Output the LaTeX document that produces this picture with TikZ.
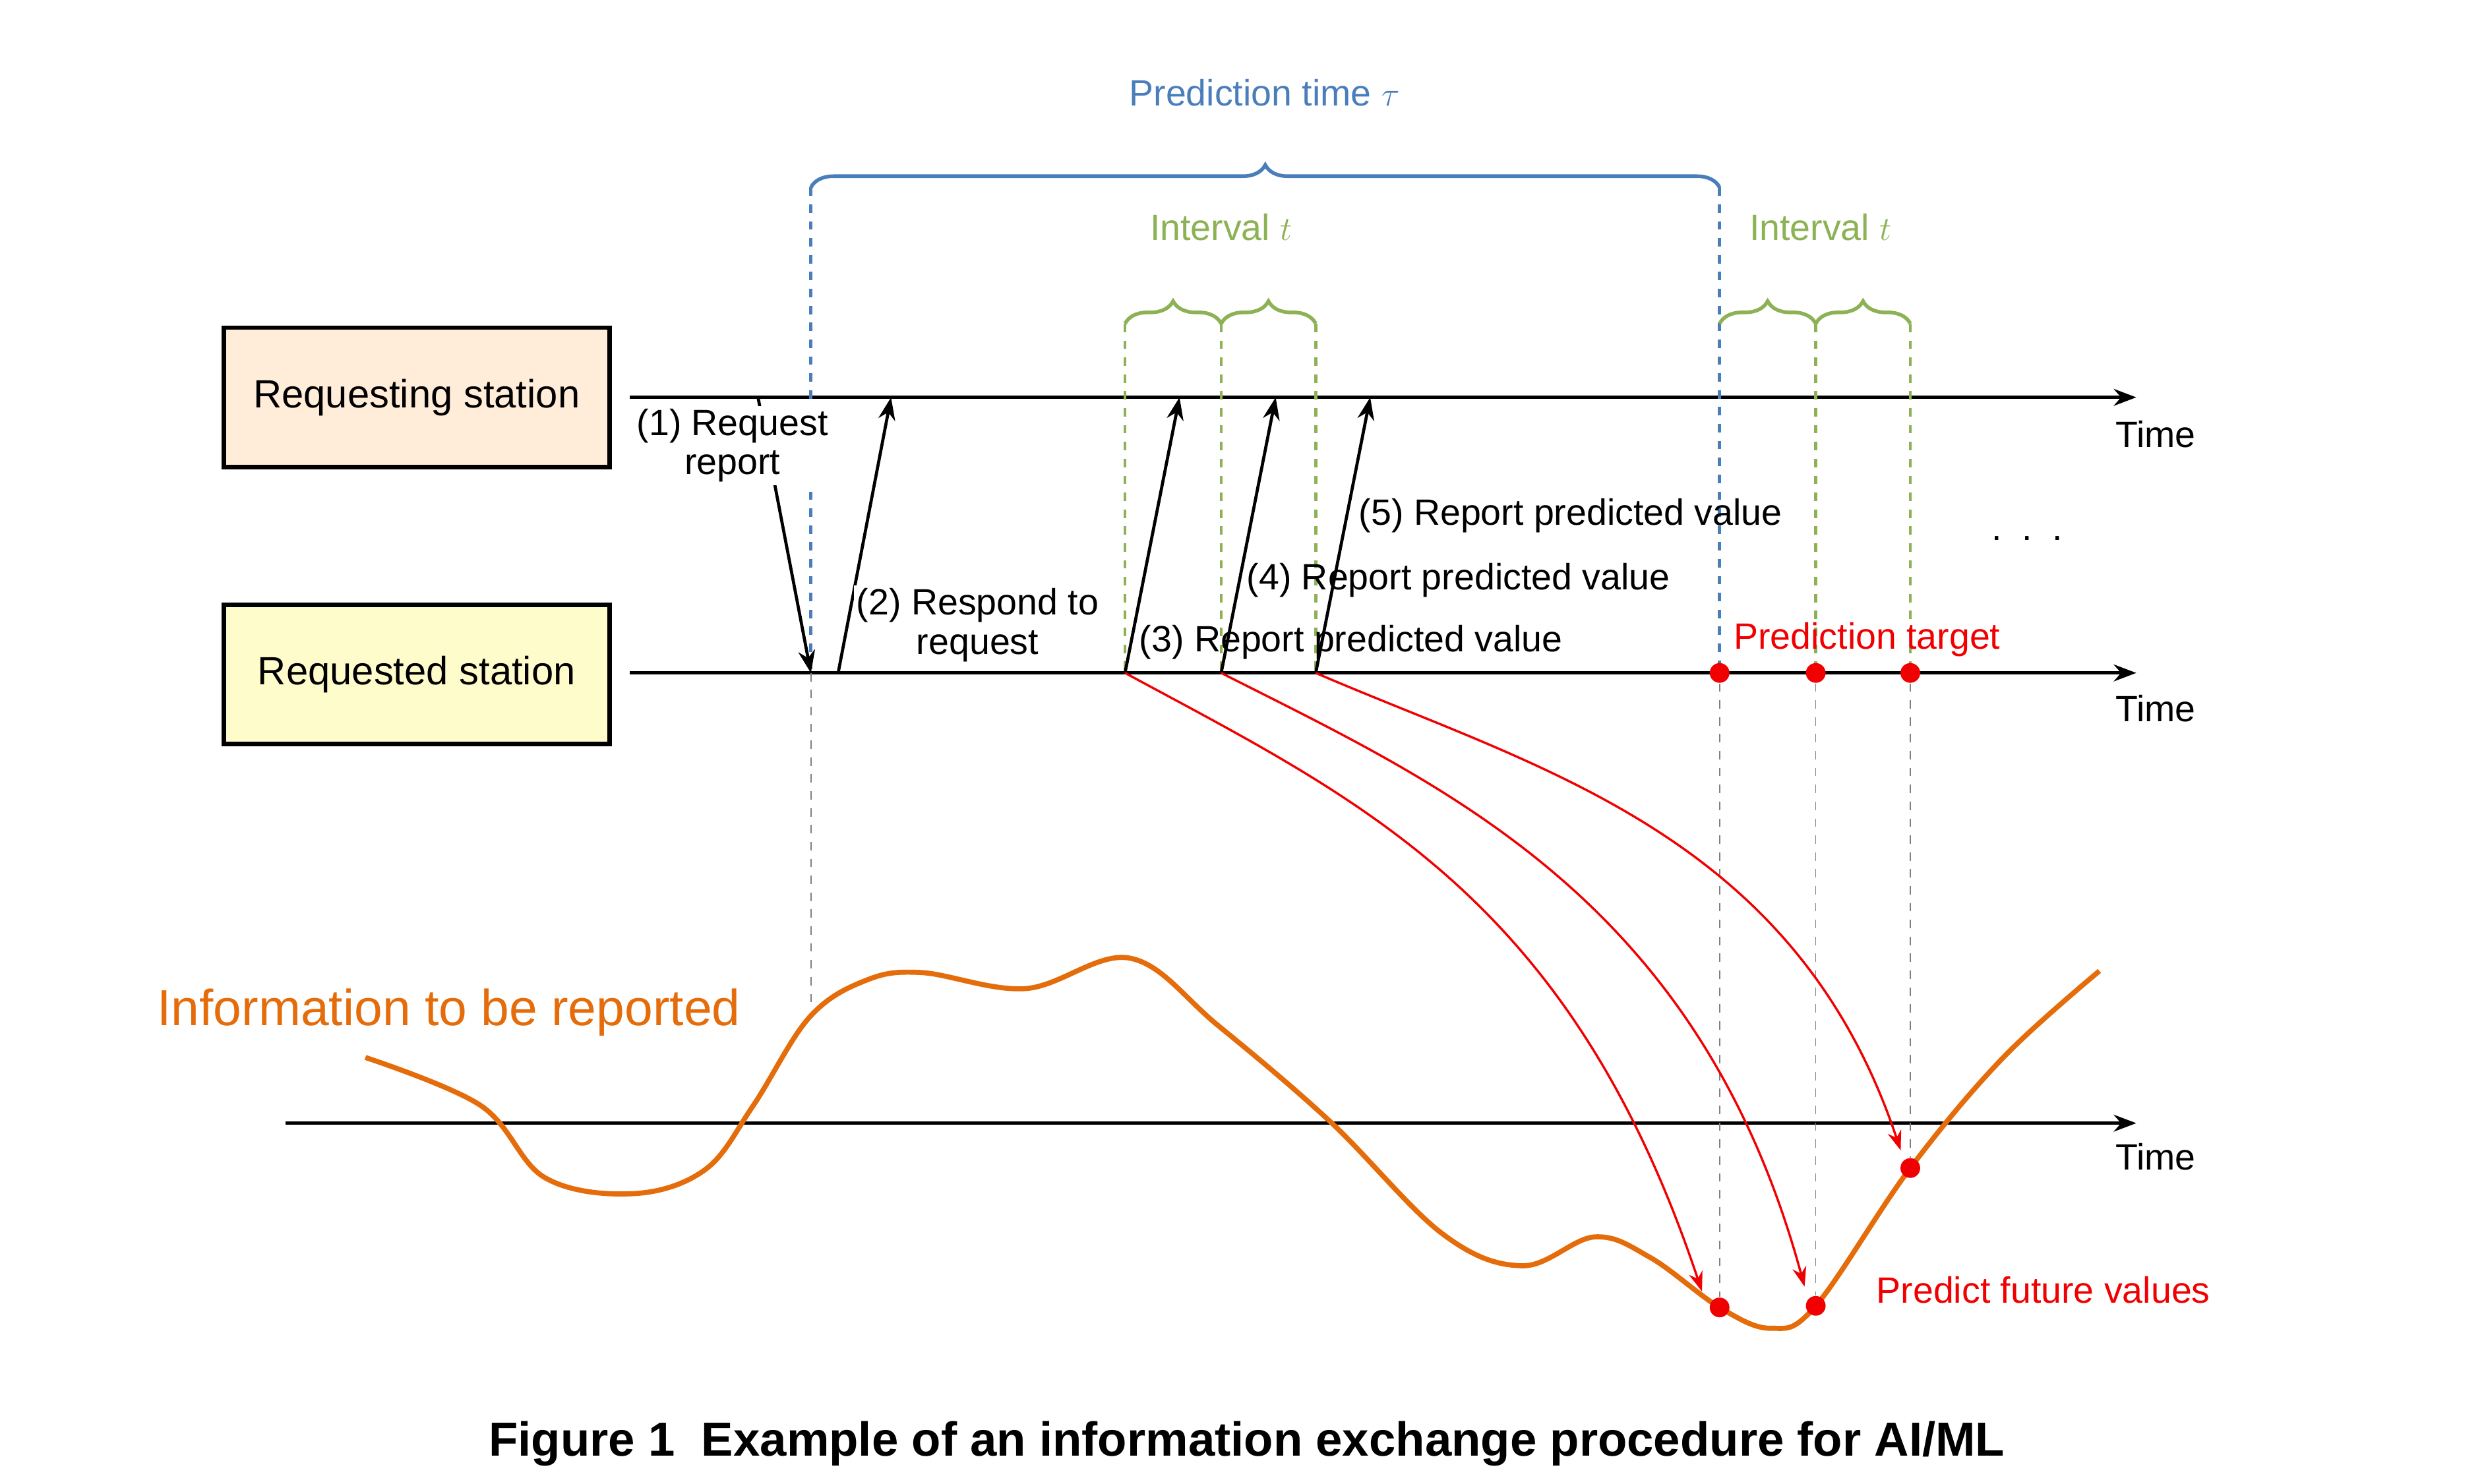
\documentclass[tikz,border=0pt]{standalone}
\usepackage{fontspec}
\setmainfont{Liberation Sans}
\usetikzlibrary{decorations.pathreplacing,arrows.meta}
\definecolor{myblue}{HTML}{4A7EBB}
\definecolor{mygreen}{HTML}{8DB255}
\definecolor{myorange}{HTML}{E46C0A}
\definecolor{myred}{HTML}{F00000}
\tikzset{
  station/.style={draw,line width=1.6pt,minimum width=4.82cm,minimum height=1.74cm,font=\fontsize{14}{16}\selectfont},
  lbl/.style={font=\fontsize{13}{14}\selectfont,align=center,inner sep=1pt},
  axis/.style={line width=1.1pt,-{Stealth[length=8pt,width=6pt]}},
  msg/.style={line width=1.1pt,-{Stealth[length=8pt,width=6pt]}},
  pred/.style={myred,line width=0.8pt,-{Stealth[length=7pt,width=5pt]}},
  dot/.style={circle,fill=myred,inner sep=0pt,minimum size=7pt},
  bluebrace/.style={myblue,line width=1.3pt,decorate,decoration={brace,amplitude=8pt}},
  greenbrace/.style={mygreen,line width=1.3pt,decorate,decoration={brace,amplitude=8pt}}
}
\begin{document}
\begin{tikzpicture}[x=0.02cm,y=-0.02cm]
\useasboundingbox (0,0) rectangle (1550,926);

\node[station,fill=orange!15] (rs) at (260,248) {Requesting station};
\node[station,fill=yellow!20] (rd) at (260,421) {Requested station};

\coordinate (t1a) at (393,248); \coordinate (t1b) at (1333,248);
\coordinate (t2a) at (393,420); \coordinate (t2b) at (1333,420);
\coordinate (t3a) at (178,701); \coordinate (t3b) at (1333,701);
\draw[axis] (t1a) -- (t1b);
\draw[axis] (t2a) -- (t2b);
\draw[axis] (t3a) -- (t3b);
\node[lbl] at (1345,271) {Time};
\node[lbl] at (1345,442) {Time};
\node[lbl] at (1345,722) {Time};

\draw[bluebrace] (506,117) -- (1073,117);
\node[lbl,myblue] at (789,58) {Prediction time $\tau$};
\draw[myblue,line width=1.1pt,dashed] (506,117) -- (506,420);
\draw[myblue,line width=1.1pt,dashed] (1073,117) -- (1073,420);

\draw[greenbrace] (702,202) -- (762,202);
\draw[greenbrace] (762,202) -- (821,202);
\draw[greenbrace] (1073,202) -- (1133,202);
\draw[greenbrace] (1133,202) -- (1192,202);
\node[lbl,mygreen] at (762,142) {Interval $t$};
\node[lbl,mygreen] at (1136,142) {Interval $t$};
\foreach \x in {702,762,821,1133,1192}
  \draw[mygreen,line width=1.1pt,dashed] (\x,202) -- (\x,420);

\coordinate (r1) at (473,248); \coordinate (e1) at (506,420);
\coordinate (s2) at (523,420); \coordinate (e2) at (556,248);
\coordinate (s3) at (702,420); \coordinate (e3) at (736,248);
\coordinate (s4) at (762,420); \coordinate (e4) at (796,248);
\coordinate (s5) at (821,420); \coordinate (e5) at (855,248);
\draw[msg] (r1) -- (e1);
\draw[msg] (s2) -- (e2);
\draw[msg] (s3) -- (e3);
\draw[msg] (s4) -- (e4);
\draw[msg] (s5) -- (e5);
\node[lbl,fill=white] at (457,278) {(1) Request\\report};
\node[lbl,fill=white] at (610,390) {(2) Respond to\\request};
\node[lbl] at (843,401) {(3) Report predicted value};
\node[lbl] at (910,362) {(4) Report predicted value};
\node[lbl] at (980,322) {(5) Report predicted value};
\node[lbl] at (1265,336) {.\ \ .\ \ .};

\node[lbl,myred] at (1165,399) {Prediction target};
\node[dot] (p1) at (1073,420) {};
\node[dot] (p2) at (1133,420) {};
\node[dot] (p3) at (1192,420) {};

\draw[myorange,line width=1.8pt] plot[smooth,tension=0.6] coordinates {(228,660) (300,690) (340,735) (395,745) (440,730) (470,690) (505,635) (540,612) (575,607) (640,617) (705,598) (760,640) (830,700) (900,770) (950,790) (995,772) (1030,785) (1073,816) (1105,829) (1133,815) (1192,729) (1250,660) (1310,606)};
\node[myorange,font=\fontsize{18}{20}\selectfont] at (280,632) {Information to be reported};

\node[dot] (f1) at (1073,816) {};
\node[dot] (f2) at (1133,815) {};
\node[dot] (f3) at (1192,729) {};
\coordinate (c0) at (506,630);
\draw[gray,dashed] (e1) -- (c0);
\draw[gray,dashed] (p1) -- (f1);
\draw[gray,dashed] (p2) -- (f2);
\draw[gray,dashed] (p3) -- (f3);

\draw[pred] (s3) .. controls (850,500) and (980,560) .. (1062,806);
\draw[pred] (s4) .. controls (900,490) and (1060,560) .. (1126,803);
\draw[pred] (s5) .. controls (960,480) and (1120,520) .. (1186,718);
\node[lbl,myred] at (1275,805) {Predict future values};

\node[font=\fontsize{17}{19}\selectfont\bfseries] at (778,901) {Figure 1\ \ Example of an information exchange procedure for AI/ML};
\end{tikzpicture}
\end{document}
